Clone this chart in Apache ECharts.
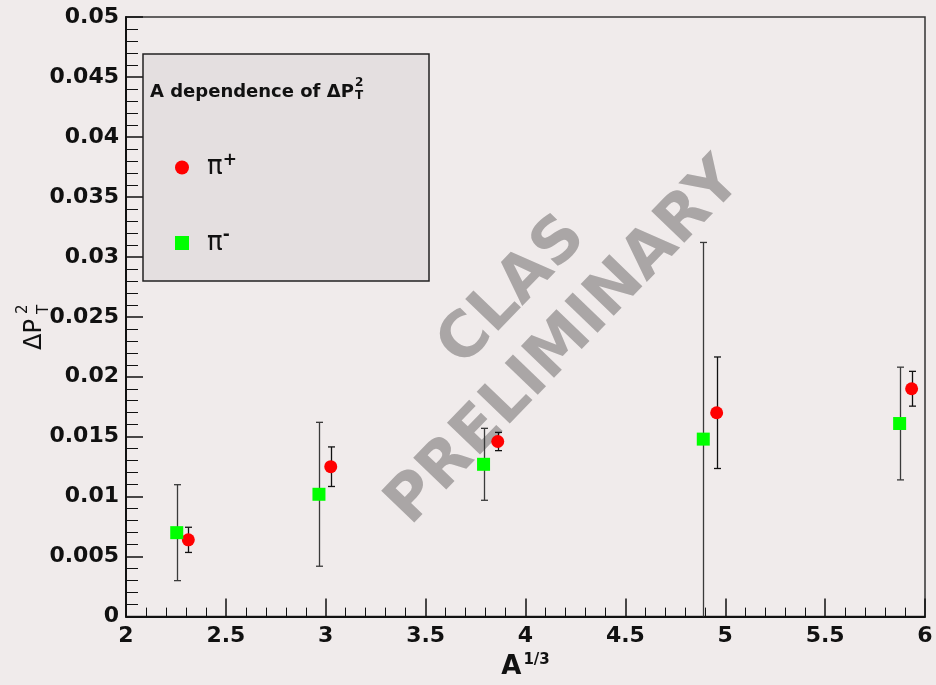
<!DOCTYPE html>
<html>
<head>
<meta charset="utf-8">
<script src="https://cdn.jsdelivr.net/npm/echarts@6/dist/echarts.min.js"></script>
<style>
  html, body { margin: 0; padding: 0; background: #f0ebeb; }
  #chart-container { width: 936px; height: 685px; }
</style>
</head>
<body>
<div id="chart-container"></div>
<script>
// A^(1/3) positions and Delta P_T^2 values
const piPlusX = [2.312, 3.025, 3.861, 4.957, 5.933];
const piPlusY = [0.0064, 0.0125, 0.0146, 0.0170, 0.0190];
const piPlusErr = [0.00105, 0.00165, 0.00076, 0.00465, 0.00145];

const piMinusX = [2.254, 2.966, 3.790, 4.890, 5.873];
const piMinusY = [0.0070, 0.0102, 0.0127, 0.0148, 0.0161];
const piMinusErr = [0.0040, 0.0060, 0.0030, 0.0164, 0.0047];

const FONT = 'DejaVu Sans';

var dom = document.getElementById('chart-container');
var myChart = echarts.init(dom, null, { renderer: 'canvas' });

function points(xs, ys) {
    return xs.map((x, i) => [x, ys[i]]);
}
function bars(xs, ys, errs) {
    return xs.map((x, i) => [x, ys[i] - errs[i], ys[i] + errs[i]]);
}

function errorBar(color) {
    return function (params, api) {
        const x = api.value(0);
        const lo = api.coord([x, api.value(1)]);
        const hi = api.coord([x, api.value(2)]);
        const cs = params.coordSys;
        const px = Math.round(lo[0]) + 0.5;
        const top = Math.max(hi[1], cs.y);
        const bottom = Math.min(lo[1], cs.y + cs.height);
        const st = { stroke: color, lineWidth: 1.3 };
        const children = [
            { type: 'line', shape: { x1: px, y1: top, x2: px, y2: bottom }, style: st }
        ];
        if (hi[1] >= cs.y) {
            children.push({ type: 'line', shape: { x1: px - 3.5, y1: hi[1], x2: px + 3.5, y2: hi[1] }, style: st });
        }
        if (lo[1] <= cs.y + cs.height) {
            children.push({ type: 'line', shape: { x1: px - 3.5, y1: lo[1], x2: px + 3.5, y2: lo[1] }, style: st });
        }
        return { type: 'group', children: children };
    };
}

const rot = 46 * Math.PI / 180;

var option = {
    backgroundColor: '#f0ebeb',
    animation: false,
    grid: {
        left: 126, right: 11, top: 17, bottom: 66,
        show: true,
        borderColor: '#333',
        borderWidth: 1.5,
        backgroundColor: 'transparent'
    },
    xAxis: {
        type: 'value',
        min: 2, max: 6, interval: 0.5,
        name: '{a|A}{s|1/3}',
        nameLocation: 'middle',
        nameGap: 34,
        nameTextStyle: {
            rich: {
                a: { fontFamily: FONT, fontWeight: 'bold', fontSize: 26, color: '#111' },
                s: { fontFamily: FONT, fontWeight: 'bold', fontSize: 15, color: '#111', padding: [0, 0, 14, 2] }
            }
        },
        axisLine: { lineStyle: { color: '#111', width: 2 } },
        axisTick: { inside: true, length: 18, lineStyle: { color: '#111', width: 1.5 } },
        minorTick: { show: true, splitNumber: 5, length: 9, lineStyle: { color: '#111', width: 1 } },
        axisLabel: { fontFamily: FONT, fontWeight: 'bold', fontSize: 22, color: '#111', margin: 9 },
        splitLine: { show: false }
    },
    yAxis: {
        type: 'value',
        min: 0, max: 0.05, interval: 0.005,
        axisLine: { show: true, lineStyle: { color: '#111', width: 2 } },
        axisTick: { show: true, inside: true, length: 17, lineStyle: { color: '#111', width: 1.5 } },
        minorTick: { show: true, splitNumber: 5, length: 12, lineStyle: { color: '#111', width: 1 } },
        axisLabel: { fontFamily: FONT, fontWeight: 'bold', fontSize: 22, color: '#111', margin: 7 },
        splitLine: { show: false }
    },
    legend: {
        orient: 'vertical',
        left: 170,
        top: 147,
        itemWidth: 14,
        itemHeight: 14,
        itemGap: 47,
        selectedMode: false,
        data: ['π+', 'π-'],
        formatter: function (name) {
            return name === 'π+' ? '{p|π}{s|+}' : '{p|π}{s|-}';
        },
        textStyle: {
            rich: {
                p: { fontFamily: FONT, fontSize: 26, color: '#111', padding: [0, 0, 0, 13] },
                s: { fontFamily: FONT, fontWeight: 'bold', fontSize: 17, color: '#111', padding: [0, 0, 14, 0] }
            }
        }
    },
    graphic: [
        {
            type: 'rect',
            z: 1,
            shape: { x: 143, y: 54, width: 286, height: 227 },
            style: { fill: '#e4dfe0', stroke: '#222', lineWidth: 1.5 }
        },
        {
            type: 'text', z: 2, x: 150, y: 92,
            style: { text: 'A dependence of ΔP', font: 'bold 18px "DejaVu Sans"', fill: '#111', textVerticalAlign: 'middle' }
        },
        {
            type: 'text', z: 2, x: 355, y: 83,
            style: { text: '2', font: 'bold 12px "DejaVu Sans"', fill: '#111', textVerticalAlign: 'middle' }
        },
        {
            type: 'text', z: 2, x: 355, y: 96,
            style: { text: 'T', font: 'bold 12px "DejaVu Sans"', fill: '#111', textVerticalAlign: 'middle' }
        },
        {
            // y axis title
            type: 'group', x: 35, y: 323, rotation: Math.PI / 2,
            children: [
                { type: 'text', x: -27, y: 0, style: { text: 'ΔP', font: '24px "DejaVu Sans"', fill: '#111', textVerticalAlign: 'middle' } },
                { type: 'text', x: 9, y: -12, style: { text: '2', font: '15px "DejaVu Sans"', fill: '#111', textVerticalAlign: 'middle' } },
                { type: 'text', x: 9, y: 9, style: { text: 'T', font: '15px "DejaVu Sans"', fill: '#111', textVerticalAlign: 'middle' } }
            ]
        },
        {
            // watermark
            type: 'text', z: 0, x: 513, y: 292, rotation: rot,
            style: { text: 'CLAS', font: 'bold 63px "DejaVu Sans"', fill: '#aaa6a6', textAlign: 'center', textVerticalAlign: 'middle' }
        },
        {
            type: 'text', z: 0, x: 565, y: 343, rotation: rot,
            style: { text: 'PRELIMINARY', font: 'bold 63px "DejaVu Sans"', fill: '#aaa6a6', textAlign: 'center', textVerticalAlign: 'middle' }
        }
    ],
    series: [
        {
            name: 'π+ err',
            type: 'custom',
            renderItem: errorBar('#111'),
            encode: { x: 0, y: [1, 2] },
            data: bars(piPlusX, piPlusY, piPlusErr),
            z: 3
        },
        {
            name: 'π- err',
            type: 'custom',
            renderItem: errorBar('#3a3a3a'),
            encode: { x: 0, y: [1, 2] },
            data: bars(piMinusX, piMinusY, piMinusErr),
            z: 3
        },
        {
            name: 'π+',
            type: 'scatter',
            symbol: 'circle',
            symbolSize: 13,
            itemStyle: { color: '#ff0000', opacity: 1 },
            data: points(piPlusX, piPlusY),
            z: 4
        },
        {
            name: 'π-',
            type: 'scatter',
            symbol: 'rect',
            symbolSize: 13,
            itemStyle: { color: '#00ff00', opacity: 1 },
            data: points(piMinusX, piMinusY),
            z: 4
        }
    ]
};

myChart.setOption(option);
window.addEventListener('resize', myChart.resize);
</script>
</body>
</html>
